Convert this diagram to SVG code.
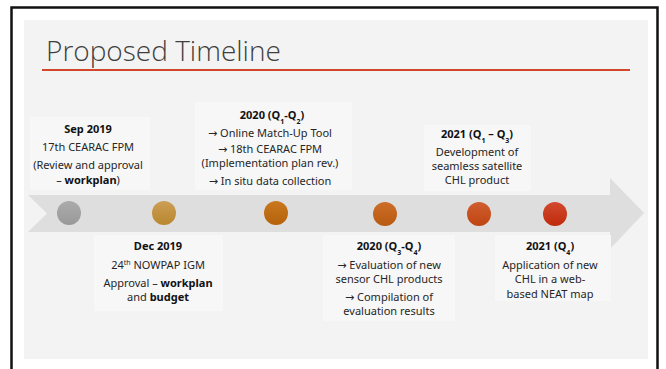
<svg xmlns="http://www.w3.org/2000/svg" width="666" height="369" viewBox="0 0 666 369">
  <defs>
    <style>
      .t { font-family: "Noto Sans", "Open Sans", "DejaVu Sans", sans-serif; font-size: 11px; fill: #262626; text-anchor: middle; }
      .h { font-weight: bold; fill: #111; }
      .b { font-weight: bold; fill: #111; }
      .sub { font-size: 7px; baseline-shift: sub; }
      .sup { font-size: 7px; baseline-shift: super; }
      .box { fill: #f7f7f7; }
      .title { font-family: "Open Sans", "Noto Sans", sans-serif; font-weight: 300; font-size: 28px; fill: #3f3f3f; }
    </style>
    <linearGradient id="g1" x1="0" y1="0" x2="0" y2="1"><stop offset="0" stop-color="#ababab"/><stop offset="1" stop-color="#999"/></linearGradient>
    <linearGradient id="g2" x1="0" y1="0" x2="0" y2="1"><stop offset="0" stop-color="#cc9e55"/><stop offset="1" stop-color="#b9872f"/></linearGradient>
    <linearGradient id="g3" x1="0" y1="0" x2="0" y2="1"><stop offset="0" stop-color="#c97820"/><stop offset="1" stop-color="#b5620a"/></linearGradient>
    <linearGradient id="g4" x1="0" y1="0" x2="0" y2="1"><stop offset="0" stop-color="#cc6e2a"/><stop offset="1" stop-color="#b85a10"/></linearGradient>
    <linearGradient id="g5" x1="0" y1="0" x2="0" y2="1"><stop offset="0" stop-color="#d05e30"/><stop offset="1" stop-color="#bf4510"/></linearGradient>
    <linearGradient id="g6" x1="0" y1="0" x2="0" y2="1"><stop offset="0" stop-color="#d24a30"/><stop offset="1" stop-color="#bf2a0a"/></linearGradient>
  </defs>

  <rect width="666" height="369" fill="#fff"/>
  <!-- slide frame -->
  <path d="M11.5,369 V7.5 H657.5 V369" fill="none" stroke="#111" stroke-width="2.5"/>
  <rect x="24" y="20" width="624" height="339" fill="#f3f3f3"/>

  <!-- heading -->
  <text class="title" x="46" y="61">Proposed Timeline</text>
  <rect x="42" y="69" width="588" height="2" fill="#d2472a"/>

  <!-- timeline arrow -->
  <g id="connectors">
    <path d="M28,195 H610 V178 L644,213 L610,249 V232 H28 L47,213.5 Z" fill="#dedede"/>
  </g>

  <!-- milestones -->
  <g id="m-sep2019">
    <rect class="box" x="30" y="117" width="120" height="73"/>
    <circle cx="69" cy="213" r="12" fill="url(#g1)"/>
    <text class="t" x="88" y="133"><tspan class="h">Sep 2019</tspan></text>
    <text class="t" x="88" y="151">17th CEARAC FPM</text>
    <text class="t" x="88" y="169">(Review and approval</text>
    <text class="t" x="88" y="184">– <tspan class="b">workplan</tspan>)</text>
  </g>

  <g id="m-dec2019">
    <rect class="box" x="94" y="235" width="129" height="76"/>
    <circle cx="164" cy="213" r="12" fill="url(#g2)"/>
    <text class="t" x="158" y="250"><tspan class="h">Dec 2019</tspan></text>
    <text class="t" x="158" y="269">24<tspan class="sup">th</tspan> NOWPAP IGM</text>
    <text class="t" x="158" y="287">Approval – <tspan class="b">workplan</tspan></text>
    <text class="t" x="158" y="301">and <tspan class="b">budget</tspan></text>
  </g>

  <g id="m-2020a">
    <rect class="box" x="195" y="102" width="157" height="88"/>
    <circle cx="276" cy="213" r="12" fill="url(#g3)"/>
    <text class="t" x="272" y="119"><tspan class="h">2020 (Q<tspan class="sub">1</tspan>-Q<tspan class="sub">2</tspan>)</tspan></text>
    <text class="t" x="270" y="137">→ Online Match-Up Tool</text>
    <text class="t" x="270" y="153">→ 18th CEARAC FPM</text>
    <text class="t" x="270" y="167">(Implementation plan rev.)</text>
    <text class="t" x="270" y="185">→ In situ data collection</text>
  </g>

  <g id="m-2020b">
    <rect class="box" x="323" y="235" width="132" height="86"/>
    <circle cx="385" cy="214" r="12" fill="url(#g4)"/>
    <text class="t" x="389" y="250"><tspan class="h">2020 (Q<tspan class="sub">3</tspan>-Q<tspan class="sub">4</tspan>)</tspan></text>
    <text class="t" x="389" y="269">→ Evaluation of new</text>
    <text class="t" x="389" y="283">sensor CHL products</text>
    <text class="t" x="389" y="301">→ Compilation of</text>
    <text class="t" x="389" y="315">evaluation results</text>
  </g>

  <g id="m-2021a">
    <rect class="box" x="424" y="125" width="107" height="66"/>
    <circle cx="479" cy="214" r="12" fill="url(#g5)"/>
    <text class="t" x="477" y="138"><tspan class="h">2021 (Q<tspan class="sub">1</tspan> – Q<tspan class="sub">3</tspan>)</tspan></text>
    <text class="t" x="477" y="156">Development of</text>
    <text class="t" x="477" y="170">seamless satellite</text>
    <text class="t" x="477" y="184">CHL product</text>
  </g>

  <g id="m-2021b">
    <rect class="box" x="495" y="235" width="116" height="66"/>
    <circle cx="555" cy="214" r="12" fill="url(#g6)"/>
    <text class="t" x="550" y="250"><tspan class="h">2021 (Q<tspan class="sub">4</tspan>)</tspan></text>
    <text class="t" x="550" y="269">Application of new</text>
    <text class="t" x="550" y="283">CHL in a web-</text>
    <text class="t" x="550" y="298">based NEAT map</text>
  </g>
</svg>
